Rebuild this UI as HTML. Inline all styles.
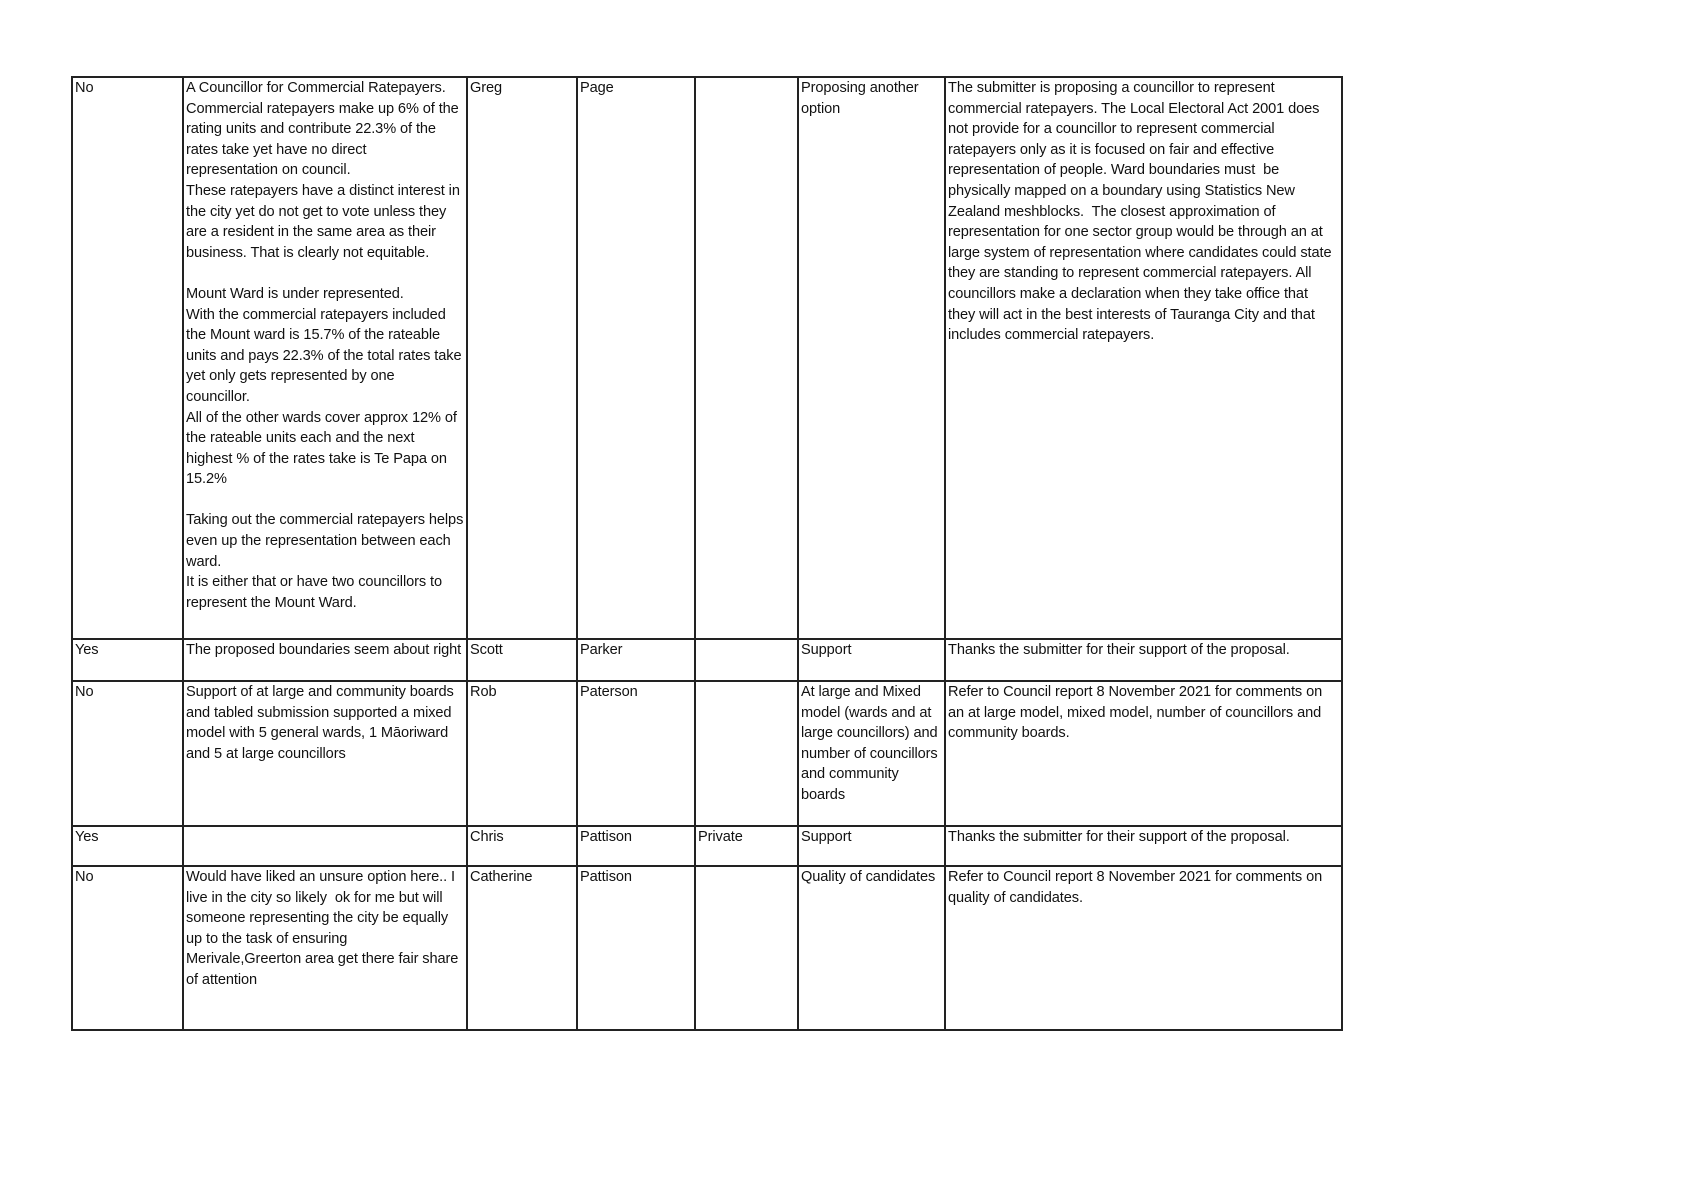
<!DOCTYPE html>
<html><head><meta charset="utf-8"><style>
html,body{margin:0;padding:0;background:#fff;width:1689px;height:1194px;overflow:hidden;position:relative}
.v{position:absolute;width:2px;background:#222;top:76px;height:955px}
.h{position:absolute;height:2px;background:#222;left:71px;width:1272px}
.t{position:absolute;font-family:"Liberation Sans",sans-serif;font-size:14.6px;line-height:20.6px;color:#111;white-space:nowrap;letter-spacing:-0.1px}
</style></head><body>
<div class="v" style="left:71px"></div>
<div class="v" style="left:182px"></div>
<div class="v" style="left:466px"></div>
<div class="v" style="left:576px"></div>
<div class="v" style="left:694px"></div>
<div class="v" style="left:797px"></div>
<div class="v" style="left:944px"></div>
<div class="v" style="left:1341px"></div>
<div class="h" style="top:76px"></div>
<div class="h" style="top:638px"></div>
<div class="h" style="top:680px"></div>
<div class="h" style="top:825px"></div>
<div class="h" style="top:865px"></div>
<div class="h" style="top:1029px"></div>

<div class="t" style="left:75px;top:78px">No</div>
<div class="t" style="left:186px;top:78px">A Councillor for Commercial Ratepayers.<br>Commercial ratepayers make up 6% of the<br>rating units and contribute 22.3% of the<br>rates take yet have no direct<br>representation on council.<br>These ratepayers have a distinct interest in<br>the city yet do not get to vote unless they<br>are a resident in the same area as their<br>business. That is clearly not equitable.<br><br>Mount Ward is under represented.<br>With the commercial ratepayers included<br>the Mount ward is 15.7% of the rateable<br>units and pays 22.3% of the total rates take<br>yet only gets represented by one<br>councillor.<br>All of the other wards cover approx 12% of<br>the rateable units each and the next<br>highest % of the rates take is Te Papa on<br>15.2%<br><br>Taking out the commercial ratepayers helps<br>even up the representation between each<br>ward.<br>It is either that or have two councillors to<br>represent the Mount Ward.</div>
<div class="t" style="left:470px;top:78px">Greg</div>
<div class="t" style="left:580px;top:78px">Page</div>
<div class="t" style="left:801px;top:78px">Proposing another<br>option</div>
<div class="t" style="left:948px;top:78px">The submitter is proposing a councillor to represent<br>commercial ratepayers. The Local Electoral Act 2001 does<br>not provide for a councillor to represent commercial<br>ratepayers only as it is focused on fair and effective<br>representation of people. Ward boundaries must&nbsp; be<br>physically mapped on a boundary using Statistics New<br>Zealand meshblocks.&nbsp; The closest approximation of<br>representation for one sector group would be through an at<br>large system of representation where candidates could state<br>they are standing to represent commercial ratepayers. All<br>councillors make a declaration when they take office that<br>they will act in the best interests of Tauranga City and that<br>includes commercial ratepayers.</div>

<div class="t" style="left:75px;top:640px">Yes</div>
<div class="t" style="left:186px;top:640px">The proposed boundaries seem about right</div>
<div class="t" style="left:470px;top:640px">Scott</div>
<div class="t" style="left:580px;top:640px">Parker</div>
<div class="t" style="left:801px;top:640px">Support</div>
<div class="t" style="left:948px;top:640px">Thanks the submitter for their support of the proposal.</div>

<div class="t" style="left:75px;top:682px">No</div>
<div class="t" style="left:186px;top:682px">Support of at large and community boards<br>and tabled submission supported a mixed<br>model with 5 general wards, 1 Māoriward<br>and 5 at large councillors</div>
<div class="t" style="left:470px;top:682px">Rob</div>
<div class="t" style="left:580px;top:682px">Paterson</div>
<div class="t" style="left:801px;top:682px">At large and Mixed<br>model (wards and at<br>large councillors) and<br>number of councillors<br>and community<br>boards</div>
<div class="t" style="left:948px;top:682px">Refer to Council report 8 November 2021 for comments on<br>an at large model, mixed model, number of councillors and<br>community boards.</div>

<div class="t" style="left:75px;top:827px">Yes</div>
<div class="t" style="left:470px;top:827px">Chris</div>
<div class="t" style="left:580px;top:827px">Pattison</div>
<div class="t" style="left:698px;top:827px">Private</div>
<div class="t" style="left:801px;top:827px">Support</div>
<div class="t" style="left:948px;top:827px">Thanks the submitter for their support of the proposal.</div>

<div class="t" style="left:75px;top:867px">No</div>
<div class="t" style="left:186px;top:867px">Would have liked an unsure option here.. I<br>live in the city so likely&nbsp; ok for me but will<br>someone representing the city be equally<br>up to the task of ensuring<br>Merivale,Greerton area get there fair share<br>of attention</div>
<div class="t" style="left:470px;top:867px">Catherine</div>
<div class="t" style="left:580px;top:867px">Pattison</div>
<div class="t" style="left:801px;top:867px">Quality of candidates</div>
<div class="t" style="left:948px;top:867px">Refer to Council report 8 November 2021 for comments on<br>quality of candidates.</div>
</body></html>
